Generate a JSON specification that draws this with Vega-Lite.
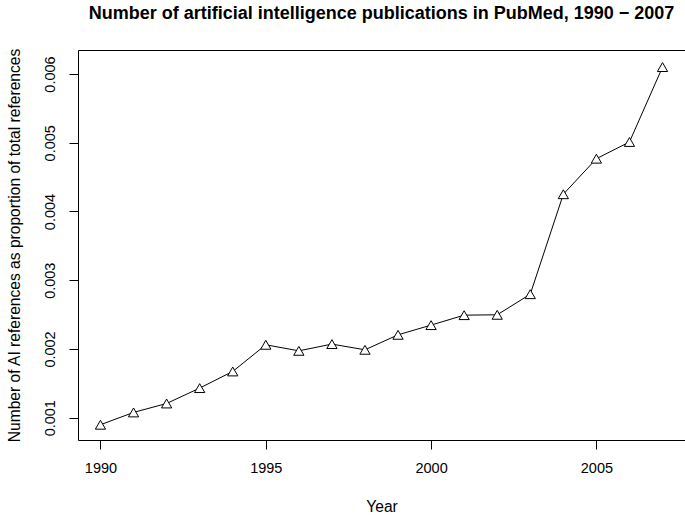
{
  "$schema": "https://vega.github.io/schema/vega-lite/v6.json",
  "width": 607,
  "height": 390,
  "autosize": {"type": "none"},
  "padding": {"left": 78, "top": 50, "right": 0, "bottom": 78},
  "background": "white",
  "title": {
    "text": "Number of artificial intelligence publications in PubMed, 1990 − 2007",
    "font": "Liberation Sans",
    "fontSize": 18,
    "fontWeight": "bold",
    "color": "black",
    "anchor": "middle",
    "baseline": "alphabetic",
    "offset": 11
  },
  "config": {
    "font": "Liberation Sans",
    "view": {"stroke": "black", "strokeWidth": 1},
    "axis": {
      "domain": false,
      "grid": false,
      "ticks": true,
      "tickColor": "black",
      "tickSize": 9,
      "tickWidth": 1,
      "labelFont": "Liberation Sans",
      "labelFontSize": 14.5,
      "labelColor": "black",
      "titleFont": "Liberation Sans",
      "titleFontSize": 15.6,
      "titleFontWeight": "normal",
      "titleColor": "black"
    }
  },
  "data": {
    "values": [
      {"year": 1990, "value": 0.000898},
      {"year": 1991, "value": 0.001077},
      {"year": 1992, "value": 0.001207},
      {"year": 1993, "value": 0.001431},
      {"year": 1994, "value": 0.001673},
      {"year": 1995, "value": 0.002061},
      {"year": 1996, "value": 0.001973},
      {"year": 1997, "value": 0.002071},
      {"year": 1998, "value": 0.001988},
      {"year": 1999, "value": 0.002206},
      {"year": 2000, "value": 0.002347},
      {"year": 2001, "value": 0.002492},
      {"year": 2002, "value": 0.002497},
      {"year": 2003, "value": 0.002797},
      {"year": 2004, "value": 0.004251},
      {"year": 2005, "value": 0.004768},
      {"year": 2006, "value": 0.005011},
      {"year": 2007, "value": 0.006101}
    ]
  },
  "encoding": {
    "x": {
      "field": "year",
      "type": "quantitative",
      "scale": {"domain": [1989.32, 2007.68], "nice": false, "zero": false},
      "axis": {
        "values": [1990, 1995, 2000, 2005],
        "format": "d",
        "labelPadding": 12,
        "labelBaseline": "top",
        "title": "Year",
        "titleY": 71.7,
        "titleBaseline": "alphabetic"
      }
    },
    "y": {
      "field": "value",
      "type": "quantitative",
      "scale": {"domain": [0.000676, 0.006349], "nice": false, "zero": false},
      "axis": {
        "values": [0.001, 0.002, 0.003, 0.004, 0.005, 0.006],
        "format": ".3f",
        "labelAngle": 270,
        "labelAlign": "center",
        "labelBaseline": "alphabetic",
        "labelPadding": 15,
        "title": "Number of AI references as proportion of total references",
        "titleX": -58.7,
        "titleY": 195,
        "titleAngle": 270,
        "titleAlign": "center",
        "titleBaseline": "alphabetic"
      }
    }
  },
  "layer": [
    {"mark": {"type": "line", "color": "black", "strokeWidth": 1}},
    {"mark": {"type": "point", "shape": "triangle-up", "size": 105, "filled": true, "fill": "white", "stroke": "black", "strokeWidth": 1, "opacity": 1}}
  ]
}
